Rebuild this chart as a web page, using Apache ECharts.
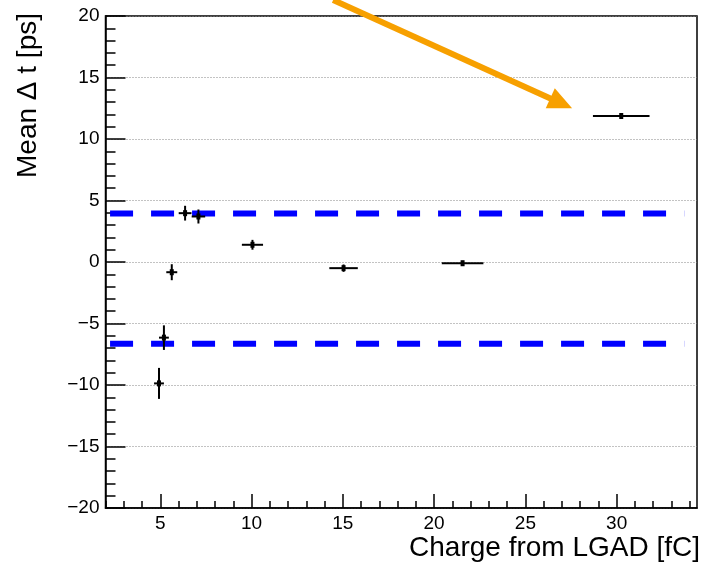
<!DOCTYPE html>
<html><head><meta charset="utf-8">
<script src="https://cdn.jsdelivr.net/npm/echarts@6/dist/echarts.min.js"></script>
<style>html,body{margin:0;padding:0;background:#fff}#c{width:702px;height:564px}</style>
</head><body><div id="c"></div>
<script>
// Mean time difference per LGAD charge bin, with bin-width (x) and statistical (y) errors
const charge     = [4.93, 5.20, 5.63, 6.36, 7.09, 10.05, 15.04, 21.56, 30.25];
const chargeErr  = [0.27, 0.27, 0.30, 0.35, 0.37, 0.58, 0.78, 1.14, 1.55];
const meanDt     = [-9.87, -6.15, -0.83, 3.97, 3.70, 1.40, -0.50, -0.10, 11.87];
const meanDtErr  = [1.26, 1.00, 0.65, 0.60, 0.57, 0.40, 0.30, 0.20, 0.20];

// Band limits drawn as dashed lines
const bandLevels = [3.95, -6.64];
const bandSpan   = [2.25, 33.7];

// Axes
const xRange = [2, 34.4];
const yRange = [-20, 20];
const xMajorTicks = [5, 10, 15, 20, 25, 30];
const xMinorTicks = [2, 3, 4, 6, 7, 8, 9, 11, 12, 13, 14, 16, 17, 18, 19, 21, 22, 23, 24, 26, 27, 28, 29, 31, 32, 33, 34];

// Callout arrow (data units) pointing at the highest-charge bin
const arrowFrom = [14.47, 21.3];
const arrowTo   = [27.56, 12.5];

const FONT = 'Liberation Sans, Arial, Helvetica, sans-serif';
const points = charge.map((c, i) => [c, meanDt[i], chargeErr[i], meanDtErr[i]]);

const chart = echarts.init(document.getElementById('c'));

function errorBar(params, api) {
  const x = api.value(0), y = api.value(1), ex = api.value(2), ey = api.value(3);
  const c = api.coord([x, y]);
  const l = api.coord([x - ex, y]), r = api.coord([x + ex, y]);
  const t = api.coord([x, y + ey]), b = api.coord([x, y - ey]);
  const st = { stroke: '#000', lineWidth: 2 };
  return {
    type: 'group',
    children: [
      { type: 'line', shape: { x1: l[0], y1: c[1], x2: r[0], y2: c[1] }, style: st },
      { type: 'line', shape: { x1: c[0], y1: t[1], x2: c[0], y2: b[1] }, style: st },
      { type: 'rect', shape: { x: c[0] - 2, y: c[1] - 3, width: 4, height: 6 }, style: { fill: '#000' } }
    ]
  };
}

const bandSeries = bandLevels.map(v => ({
  type: 'line',
  data: [[bandSpan[0], v], [bandSpan[1], v]],
  symbol: 'none',
  silent: true,
  lineStyle: { color: '#0000ff', width: 6, type: [23, 18] },
  z: 3
}));

const titleFont = '28px ' + FONT;

chart.setOption({
  animation: false,
  backgroundColor: '#fff',
  grid: { left: 105.5, right: 5, top: 16, bottom: 56, show: true, borderColor: '#000', borderWidth: 1.5, containLabel: false },
  xAxis: [
    {
      type: 'value', min: xRange[0], max: xRange[1], position: 'bottom',
      axisLine: { show: true, onZero: false, lineStyle: { color: '#000', width: 1.5 } },
      axisTick: { show: true, inside: true, length: 14, customValues: xMajorTicks, lineStyle: { color: '#000', width: 1.5 } },
      axisLabel: { customValues: xMajorTicks, color: '#000', fontFamily: FONT, fontSize: 19, margin: 6 },
      splitLine: { show: false }
    },
    {
      type: 'value', min: xRange[0], max: xRange[1], position: 'bottom',
      axisLine: { show: false, onZero: false },
      axisTick: { show: true, inside: true, length: 7, customValues: xMinorTicks, lineStyle: { color: '#000', width: 1.5 } },
      axisLabel: { show: false },
      splitLine: { show: false }
    }
  ],
  yAxis: {
    type: 'value', min: yRange[0], max: yRange[1], interval: 5,
    axisLine: { show: true, onZero: false, lineStyle: { color: '#000', width: 1.5 } },
    axisTick: { show: true, inside: true, length: 20, lineStyle: { color: '#000', width: 1.5 } },
    minorTick: { show: true, splitNumber: 5, length: 10, lineStyle: { color: '#000', width: 1.5 } },
    axisLabel: { color: '#000', fontFamily: FONT, fontSize: 19, margin: 6,
      formatter: v => (v < 0 ? '\u2212' + Math.abs(v) : String(v)) },
    splitLine: { show: true, lineStyle: { color: '#888', width: 1.2, type: [1, 2] } }
  },
  series: [
    ...bandSeries,
    {
      type: 'custom',
      data: points,
      renderItem: errorBar,
      encode: { x: 0, y: 1 },
      z: 4
    }
  ]
});

// Axis titles and the orange callout arrow, placed from data units
const p0 = chart.convertToPixel({ xAxisIndex: 0, yAxisIndex: 0 }, arrowFrom);
const p1 = chart.convertToPixel({ xAxisIndex: 0, yAxisIndex: 0 }, arrowTo);
const dx = p1[0] - p0[0], dy = p1[1] - p0[1];
const len = Math.hypot(dx, dy), ux = dx / len, uy = dy / len;
const headLen = 24, headHalf = 11;
const bx = p1[0] - ux * headLen, by = p1[1] - uy * headLen;
chart.setOption({
  graphic: [
    { type: 'text', position: [28, 13], rotation: Math.PI / 2,
      style: { text: 'Mean \u0394 t [ps]', font: titleFont, fill: '#000', align: 'right', verticalAlign: 'middle' } },
    { type: 'text', position: [700, 548],
      style: { text: 'Charge from LGAD [fC]', font: titleFont, fill: '#000', align: 'right', verticalAlign: 'middle' } },
    { type: 'line', z: 10, shape: { x1: p0[0], y1: p0[1], x2: bx + ux * 2, y2: by + uy * 2 },
      style: { stroke: '#F7A000', lineWidth: 6 } },
    { type: 'polygon', z: 10, shape: { points: [
        [p1[0], p1[1]],
        [bx - uy * headHalf, by + ux * headHalf],
        [bx + uy * headHalf, by - ux * headHalf]
      ] }, style: { fill: '#F7A000' } }
  ]
});
</script>
</body></html>
